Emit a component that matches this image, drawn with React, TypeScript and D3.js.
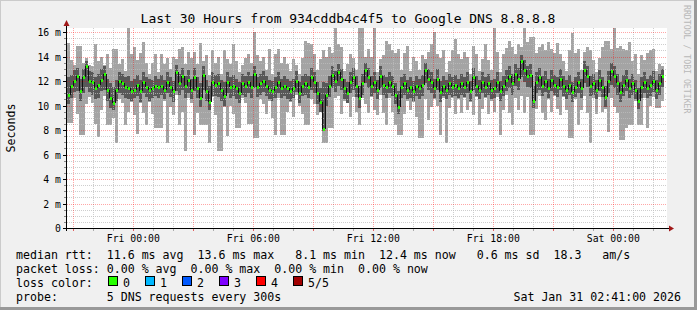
import React from 'react';
import * as d3 from 'd3';

const W = 697;
const H = 310;
const END = new Date(2026, 0, 31, 2, 41, 0);
const START = new Date(END.getTime() - 30 * 3600 * 1000);
const STEP_MIN = 9;

// median rtt per sample (ms)
const median = [
  10.9, 11.6, 12.0, 12.4, 11.2, 12.3, 13.2, 12.0, 11.9, 11.4,
  11.7, 12.1, 12.6, 11.3, 10.6, 10.2, 11.3, 12.0, 11.8, 11.5,
  11.4, 11.2, 11.3, 11.7, 11.2, 11.9, 11.5, 11.3, 11.4, 11.6,
  11.5, 11.6, 11.3, 11.9, 11.5, 11.2, 12.7, 11.8, 12.4, 11.6,
  12.1, 11.3, 12.3, 11.4, 10.6, 12.5, 11.2, 10.3, 11.9, 11.7,
  11.8, 11.3, 10.8, 11.9, 11.5, 11.6, 11.4, 11.0, 11.8, 11.6,
  11.9, 11.5, 12.6, 11.5, 11.8, 12.0, 11.6, 11.3, 11.2, 11.5,
  11.9, 11.4, 11.6, 11.4, 11.2, 11.4, 12.0, 11.0, 11.6, 11.8,
  11.5, 12.3, 11.9, 11.0, 10.3, 8.1, 10.9, 11.6, 12.5, 12.0,
  12.7, 12.2, 11.4, 11.0, 11.9, 12.3, 11.6, 10.6, 11.8, 12.9,
  12.3, 11.6, 11.9, 11.3, 12.4, 11.7, 11.5, 11.9, 11.6, 10.9,
  9.9, 11.5, 11.8, 11.3, 11.5, 11.2, 11.6, 11.4, 11.7, 12.9,
  12.2, 11.9, 11.4, 12.2, 11.1, 11.6, 11.3, 11.8, 11.5, 11.7,
  11.4, 11.8, 11.5, 11.9, 11.2, 12.3, 11.6, 11.3, 11.9, 11.5,
  11.8, 11.3, 11.4, 11.9, 11.2, 11.6, 12.1, 12.4, 11.8, 12.6,
  12.2, 13.6, 12.9, 12.4, 12.5, 10.4, 11.9, 12.3, 11.6, 12.0,
  11.4, 12.1, 11.7, 11.5, 12.2, 11.6, 11.3, 11.7, 11.1, 11.5,
  11.9, 11.4, 12.9, 12.4, 11.6, 11.8, 11.3, 12.1, 11.5, 10.7,
  12.0, 12.8, 12.4, 11.8, 11.1, 11.7, 12.1, 11.4, 11.8, 11.3,
  10.4, 11.5, 11.9, 11.4, 11.7, 12.0, 11.3, 11.8, 12.4,
];

// 2nd ping (inner smoke low)
const innerLow = [
  10.1, 10.6, 11.1, 11.2, 10.4, 11.0, 11.5, 11.1, 10.9, 10.5,
  10.6, 11.2, 11.3, 10.4, 9.8, 9.6, 10.4, 11.0, 10.9, 10.6,
  10.5, 10.4, 10.6, 10.8, 10.3, 11.0, 10.7, 10.4, 10.6, 10.8,
  10.6, 10.9, 10.5, 11.0, 10.7, 10.3, 11.2, 10.9, 11.3, 10.6,
  11.0, 10.5, 11.2, 10.6, 9.9, 11.3, 10.4, 9.6, 10.8, 10.8,
  10.7, 10.4, 10.0, 11.0, 10.6, 10.8, 10.5, 10.2, 10.9, 10.7,
  11.0, 10.6, 11.4, 10.7, 10.9, 11.1, 10.8, 10.5, 10.4, 10.6,
  11.0, 10.6, 10.8, 10.5, 10.4, 10.6, 11.1, 10.2, 10.8, 10.9,
  10.6, 11.3, 11.0, 10.1, 9.5, 7.9, 10.0, 10.7, 11.4, 11.1,
  11.6, 11.3, 10.5, 10.2, 11.0, 11.3, 10.7, 9.8, 10.9, 11.8,
  11.4, 10.8, 11.0, 10.5, 11.4, 10.9, 10.6, 11.0, 10.8, 10.1,
  9.3, 10.6, 10.9, 10.5, 10.6, 10.4, 10.8, 10.5, 10.8, 11.8,
  11.3, 11.0, 10.6, 11.3, 10.3, 10.8, 10.5, 10.9, 10.7, 10.8,
  10.6, 10.9, 10.7, 11.0, 10.4, 11.3, 10.8, 10.5, 11.0, 10.7,
  10.9, 10.5, 10.6, 11.0, 10.4, 10.8, 11.2, 11.4, 10.9, 11.6,
  11.3, 12.3, 11.9, 11.5, 11.4, 9.8, 11.0, 11.3, 10.8, 11.1,
  10.6, 11.2, 10.9, 10.7, 11.3, 10.8, 10.5, 10.9, 10.3, 10.7,
  11.0, 10.6, 11.8, 11.5, 10.8, 10.9, 10.5, 11.2, 10.7, 9.9,
  11.0, 11.7, 11.4, 10.9, 10.3, 10.8, 11.2, 10.6, 10.9, 10.5,
  9.7, 10.6, 11.0, 10.6, 10.8, 11.1, 10.5, 10.9, 11.5,
];

// 4th ping (inner smoke high)
const innerHigh = [
  12.3, 12.5, 12.9, 13.1, 12.2, 13.0, 13.6, 12.8, 12.7, 12.3,
  12.6, 13.0, 13.2, 12.2, 11.8, 11.5, 12.1, 12.7, 12.6, 12.3,
  12.4, 12.0, 12.2, 12.5, 12.1, 12.7, 12.3, 12.2, 12.1, 12.4,
  12.2, 12.5, 12.1, 12.7, 12.3, 12.0, 13.3, 12.6, 13.1, 12.4,
  12.9, 12.2, 13.1, 12.3, 11.8, 13.2, 12.1, 11.6, 12.7, 12.5,
  12.6, 12.1, 11.9, 12.7, 12.3, 12.5, 12.2, 11.9, 12.6, 12.4,
  12.7, 12.4, 13.2, 12.3, 12.6, 12.8, 12.4, 12.1, 12.0, 12.3,
  12.7, 12.2, 12.4, 12.2, 12.0, 12.2, 12.8, 11.9, 12.4, 12.6,
  12.4, 13.1, 12.7, 11.9, 11.4, 11.9, 11.8, 12.4, 13.2, 12.8,
  13.4, 13.0, 12.2, 11.9, 12.7, 13.1, 12.4, 11.6, 12.6, 13.5,
  13.1, 12.4, 12.7, 12.1, 13.2, 12.5, 12.3, 12.7, 12.4, 11.8,
  11.2, 12.3, 12.6, 12.1, 12.3, 12.0, 12.4, 12.2, 12.5, 13.5,
  13.0, 12.7, 12.2, 13.0, 12.0, 12.4, 12.1, 12.6, 12.3, 12.5,
  12.2, 12.6, 12.3, 12.7, 12.0, 13.1, 12.4, 12.1, 12.7, 12.3,
  12.6, 12.1, 12.2, 12.7, 12.0, 12.4, 12.9, 13.2, 12.6, 13.4,
  13.1, 14.1, 13.7, 13.2, 13.4, 11.6, 12.7, 13.1, 12.4, 12.8,
  12.2, 12.9, 12.5, 12.3, 13.0, 12.4, 12.1, 12.5, 11.9, 12.3,
  12.7, 12.2, 13.6, 13.2, 12.4, 12.6, 12.1, 12.9, 12.3, 11.6,
  12.8, 13.5, 13.2, 12.6, 11.9, 12.5, 12.9, 12.2, 12.6, 12.1,
  11.4, 12.3, 12.7, 12.2, 12.5, 12.8, 12.1, 12.6, 13.0,
];

// fastest ping per sample
const minRtt = [
  8.6, 8.6, 10.6, 9.3, 7.6, 7.6, 10.1, 10.7, 10.2, 8.5,
  7.4, 9.6, 10.8, 8.4, 8.4, 9.0, 6.9, 10.5, 10.2, 8.4,
  9.5, 10.3, 9.2, 7.7, 10.2, 9.4, 8.4, 10.3, 9.3, 8.2,
  8.2, 8.2, 10.4, 6.9, 9.9, 9.2, 10.9, 8.4, 9.5, 6.3,
  10.6, 10.2, 7.6, 9.4, 8.4, 8.4, 8.4, 6.9, 10.7, 9.2,
  6.3, 6.3, 9.9, 7.5, 10.0, 9.3, 8.2, 8.2, 10.6, 10.2,
  8.5, 8.5, 7.35, 7.35, 10.5, 10.1, 9.3, 10.4, 9.0, 7.6,
  10.6, 7.6, 7.6, 9.5, 10.3, 9.1, 10.9, 10.0, 9.3, 8.4,
  8.4, 10.5, 10.1, 9.2, 9.9, 6.9, 6.9, 8.2, 8.2, 10.6,
  10.8, 9.3, 10.4, 10.2, 9.1, 10.7, 9.5, 8.4, 10.6, 10.1,
  9.4, 10.7, 9.6, 9.2, 10.9, 9.4, 8.4, 10.6, 9.5, 8.4,
  7.6, 7.6, 9.3, 10.4, 9.6, 10.3, 9.1, 7.35, 7.35, 10.5,
  8.8, 9.9, 10.5, 10.0, 7.6, 10.6, 6.9, 9.8, 10.6, 9.3,
  10.5, 9.4, 10.6, 9.6, 10.3, 9.2, 10.7, 8.4, 9.7, 10.6,
  9.3, 10.4, 9.5, 10.7, 7.6, 9.6, 10.9, 9.4, 8.4, 10.6,
  9.6, 10.8, 9.4, 10.7, 7.6, 7.6, 9.7, 10.8, 9.4, 8.8,
  10.5, 9.5, 10.8, 9.7, 9.2, 10.7, 9.6, 7.35, 7.35, 10.5,
  8.4, 9.6, 10.8, 9.4, 6.9, 10.6, 9.3, 10.7, 9.5, 9.7,
  7.8, 10.6, 9.9, 9.4, 7.2, 7.2, 8.2, 8.4, 8.4, 10.4,
  8.4, 8.4, 10.6, 8.2, 10.0, 10.7, 9.8, 9.8, 10.4,
];

// slowest ping per sample
const maxRtt = [
  15.1, 13.7, 13.3, 14.9, 14.9, 13.5, 13.9, 13.3, 13.2, 15.0,
  13.6, 14.0, 13.3, 14.2, 13.1, 14.6, 14.6, 13.4, 13.8, 12.8,
  16.3, 14.2, 14.8, 13.7, 14.3, 15.2, 13.5, 12.6, 13.5, 14.2,
  12.7, 14.2, 13.4, 13.9, 13.0, 14.0, 13.8, 14.6, 14.8, 13.4,
  14.4, 13.9, 14.4, 13.4, 15.1, 13.6, 14.1, 12.5, 14.5, 13.5,
  14.0, 12.6, 14.5, 13.8, 13.4, 15.0, 13.6, 12.7, 13.3, 13.9,
  14.2, 13.5, 16.0, 14.1, 13.6, 14.0, 12.9, 14.6, 12.6, 14.2,
  14.6, 13.5, 14.0, 13.4, 12.8, 13.8, 13.3, 12.6, 13.9, 15.3,
  15.1, 15.0, 14.2, 12.9, 13.8, 14.5, 14.0, 14.8, 14.3, 16.3,
  15.0, 14.8, 12.8, 13.4, 14.2, 13.9, 12.9, 16.3, 16.3, 14.0,
  14.6, 14.0, 16.3, 12.7, 13.8, 14.1, 15.3, 15.0, 14.5, 14.3,
  14.6, 12.9, 14.3, 14.9, 12.8, 14.0, 13.6, 12.9, 14.1, 13.8,
  14.4, 15.0, 16.0, 14.2, 13.9, 14.5, 12.7, 13.6, 14.5, 15.4,
  14.2, 13.8, 14.4, 14.0, 12.6, 14.9, 14.2, 12.8, 13.8, 15.0,
  13.7, 12.9, 16.3, 14.4, 12.7, 14.2, 14.7, 15.3, 14.8, 14.2,
  15.0, 14.8, 16.3, 15.2, 15.6, 15.6, 14.3, 14.8, 15.0, 14.5,
  15.2, 14.6, 14.3, 15.1, 14.2, 13.6, 12.8, 14.5, 15.9, 14.3,
  14.6, 12.9, 14.4, 14.8, 14.5, 13.7, 12.7, 13.9, 14.8, 15.3,
  15.3, 14.6, 16.3, 14.7, 14.9, 14.6, 14.5, 15.2, 13.6, 14.2,
  12.6, 14.1, 13.7, 14.3, 14.5, 14.6, 12.8, 13.4, 13.2,
];

const yMajor = [0, 2, 4, 6, 8, 10, 12, 14, 16];
const lossLabels = ['0', '1', '2', '3', '4', '5/5'];
const lossColors = ['#26ff00', '#00b8ff', '#0059ff', '#7e00ff', '#ff0000', '#a10000'];
const legendLines = [
  'median rtt:  11.6 ms avg  13.6 ms max   8.1 ms min  12.4 ms now   0.6 ms sd  18.3   am/s',
  'packet loss: 0.00 % avg  0.00 % max  0.00 % min  0.00 % now',
  'loss color:',
  'probe:       5 DNS requests every 300s',
];
const TITLE = 'Last 30 Hours from 934cddb4c4f5 to Google DNS 8.8.8.8';
const DATE_STR = 'Sat Jan 31 02:41:00 2026';

const MONO = "'DejaVu Sans Mono', monospace";

export default function App() {
  const x = d3.scaleTime().domain([START, END]).range([67, 667]);
  const y = d3.scaleLinear().domain([0, 16.33]).range([228, 28]);
  const fmt = d3.timeFormat('%a %H:%M');

  const hours = d3.timeHour.range(START, END);
  const yMinor = d3.range(0, 16.3, 0.5);
  const tOf = (i: number) => new Date(START.getTime() + i * STEP_MIN * 60000);
  const colX = (i: number) => Math.round(x(tOf(i)));
  const colW = (i: number) => Math.round(x(tOf(i + 1))) - Math.round(x(tOf(i)));
  const py = (v: number) => Math.round(y(v));

  return (
    <svg width={W} height={H} style={{ position: 'absolute', left: 0, top: 0 }}
      fontFamily={MONO} shapeRendering="crispEdges">
      <rect x={0} y={0} width={W} height={H} fill="#f0f0f0" />
      <line x1={0} y1={0.5} x2={W} y2={0.5} stroke="#cbcbcb" />
      <line x1={0.5} y1={0} x2={0.5} y2={H} stroke="#cbcbcb" />
      <rect x={W - 3} y={0} width={3} height={H} fill="#999999" />
      <rect x={0} y={H - 3} width={W} height={3} fill="#999999" />

      <rect x={67} y={28} width={600} height={200} fill="#ffffff" />

      {/* outer smoke */}
      {median.map((_, i) => (
        <rect key={'o' + i} x={colX(i)} width={colW(i)} y={py(maxRtt[i])}
          height={py(minRtt[i]) - py(maxRtt[i])} fill="#a4a4a4" />
      ))}
      {/* inner smoke */}
      {median.map((_, i) => (
        <rect key={'n' + i} x={colX(i)} width={colW(i)} y={py(innerHigh[i])}
          height={py(innerLow[i]) - py(innerHigh[i])} fill="#585858" />
      ))}

      {/* grid */}
      {yMinor.filter(v => v % 2 !== 0).map(v => (
        <line key={'ym' + v} x1={67} x2={667} y1={py(v) + 0.5} y2={py(v) + 0.5}
          stroke="rgba(190,190,190,0.75)" strokeDasharray="1,1" />
      ))}
      {hours.filter(h => h.getHours() % 3 !== 0).map(h => (
        <line key={'xm' + h.getTime()} x1={Math.round(x(h)) + 0.5} x2={Math.round(x(h)) + 0.5}
          y1={28} y2={228} stroke="rgba(190,190,190,0.75)" strokeDasharray="1,1" />
      ))}
      {yMajor.filter(v => v > 0).map(v => (
        <line key={'yM' + v} x1={67} x2={667} y1={py(v) + 0.5} y2={py(v) + 0.5}
          stroke="rgba(255,0,0,0.35)" strokeDasharray="1,1" />
      ))}
      {hours.filter(h => h.getHours() % 3 === 0).map(h => (
        <line key={'xM' + h.getTime()} x1={Math.round(x(h)) + 0.5} x2={Math.round(x(h)) + 0.5}
          y1={28} y2={228} stroke="rgba(255,0,0,0.35)" strokeDasharray="1,1" />
      ))}

      {/* median connectors */}
      {median.map((m, i) => i === 0 ? null : (
        <line key={'c' + i} x1={colX(i) + 0.5} x2={colX(i) + 0.5}
          y1={py(median[i - 1])} y2={py(m)} stroke="#111111" strokeWidth={1} />
      ))}
      {/* median marks */}
      {median.map((m, i) => (
        <rect key={'m' + i} x={colX(i) + 1} width={colW(i) - 1} y={py(m) - 1} height={3}
          fill={lossColors[0]} />
      ))}

      {/* y-axis ticks */}
      {yMinor.map(v => (
        <line key={'yt' + v} x1={v % 2 === 0 ? 63 : 64} x2={67} y1={py(v) + 0.5} y2={py(v) + 0.5}
          stroke={v % 2 === 0 ? '#000' : '#888'} />
      ))}
      {/* x-axis ticks */}
      {hours.map(h => (
        <line key={'xt' + h.getTime()} x1={Math.round(x(h)) + 0.5} x2={Math.round(x(h)) + 0.5}
          y1={228} y2={231} stroke={h.getHours() % 3 === 0 ? '#e06060' : '#aaaaaa'} />
      ))}
      {/* axes */}
      <line x1={64} x2={669} y1={228.5} y2={228.5} stroke="#000" />
      <line x1={66.5} x2={66.5} y1={231} y2={25} stroke="#000" />
      <path d="M669,225.5 L674,228.5 L669,231.5 Z" fill="#a01818" shapeRendering="auto" />
      <path d="M63.5,26 L66.5,20 L69.5,26 Z" fill="#a01818" shapeRendering="auto" />

      {yMajor.map(v => (
        <text key={'yl' + v} x={61} y={py(v) + 4} textAnchor="end" fontSize={9.8} fill="#000">
          {v === 0 ? '0' : `${v} m`}
        </text>
      ))}
      {hours.filter(h => h.getHours() % 6 === 0).map(h => (
        <text key={'xl' + h.getTime()} x={x(h)} y={242} textAnchor="middle" fontSize={9.8} fill="#000">
          {fmt(h)}
        </text>
      ))}

      <text x={348} y={23} textAnchor="middle" fontSize={13} fill="#000">{TITLE}</text>
      <text transform="translate(15,128) rotate(-90)" textAnchor="middle" fontSize={11.6} fill="#000">Seconds</text>
      <text transform="translate(684,5) rotate(90)" fontSize={8.2} fill="#b8b8b8">RRDTOOL / TOBI OETIKER</text>

      {legendLines.map((s, k) => (
        <text key={'lg' + k} x={16} y={258.5 + k * 14} fontSize={11.6} fill="#000"
          style={{ whiteSpace: 'pre' }}>{s}</text>
      ))}
      {lossLabels.map((l, k) => (
        <g key={'lc' + k}>
          <rect x={108.5 + k * 37} y={276.5} width={9} height={9} fill={lossColors[k]} stroke="#000" />
          <text x={123 + k * 37} y={286.5} fontSize={11.6} fill="#000">{l}</text>
        </g>
      ))}
      <text x={681} y={300.5} textAnchor="end" fontSize={11.6} fill="#000"
        style={{ whiteSpace: 'pre' }}>{DATE_STR}</text>
    </svg>
  );
}
